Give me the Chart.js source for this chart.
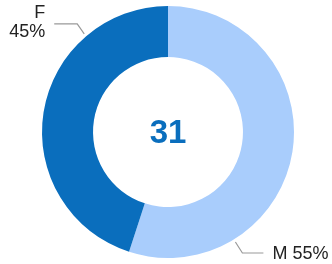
<!DOCTYPE html>
<html><head><meta charset="utf-8">
<script src="https://cdn.jsdelivr.net/npm/chart.js@4"></script>
<style>html,body{margin:0;padding:0;background:#fff}#c{display:block}</style>
</head><body>
<canvas id="c" width="332" height="264"></canvas>
<script>
const categories = ["M", "F"];
const values = [55, 45];
const colors = ["#a9cdfc", "#0a6ebd"];
const centerValue = "31";

const labelPlugin = {
  id: 'labels',
  afterDraw(chart) {
    const ctx = chart.ctx;
    const meta = chart.getDatasetMeta(0);
    const total = values.reduce((a, b) => a + b, 0);
    ctx.save();
    const a0 = meta.data[0];
    ctx.fillStyle = "#0a6ebd";
    ctx.font = "bold 33px 'Liberation Sans', Arial, sans-serif";
    ctx.textAlign = "center";
    ctx.textBaseline = "middle";
    ctx.fillText(centerValue, a0.x, a0.y + 2);
    meta.data.forEach((arc, i) => {
      const ang = arc.startAngle + (arc.endAngle - arc.startAngle) * 0.75;
      const r = arc.outerRadius + 3;
      const ax = arc.x + Math.cos(ang) * r;
      const ay = arc.y + Math.sin(ang) * r;
      const right = Math.cos(ang) >= 0;
      const down = Math.sin(ang) >= 0;
      const ex = ax + (right ? 7 : -7);
      const ey = ay + (down ? 11 : -10);
      const hx = ex + (right ? 21 : -23);
      ctx.strokeStyle = "#999999";
      ctx.lineWidth = 1.2;
      ctx.beginPath();
      ctx.moveTo(ax, ay);
      ctx.lineTo(ex, ey);
      ctx.lineTo(hx, ey);
      ctx.stroke();
      const pct = Math.round(values[i] / total * 100) + "%";
      ctx.fillStyle = "#222222";
      ctx.font = "18px 'Liberation Sans', Arial, sans-serif";
      ctx.textBaseline = "middle";
      if (right) {
        ctx.textAlign = "left";
        ctx.fillText(categories[i] + " " + pct, hx + 9, ey + 1);
      } else {
        ctx.textAlign = "right";
        ctx.fillText(categories[i], hx - 9, ey - 11);
        ctx.fillText(pct, hx - 9, ey + 8);
      }
    });
    ctx.restore();
  }
};

new Chart(document.getElementById('c'), {
  type: 'doughnut',
  data: {
    labels: categories,
    datasets: [{ data: values, backgroundColor: colors, borderWidth: 0 }]
  },
  options: {
    responsive: false,
    animation: false,
    cutout: '59.5%',
    layout: { padding: { left: 10, right: 6, top: 6, bottom: 6 } },
    plugins: { legend: { display: false }, tooltip: { enabled: false } }
  },
  plugins: [labelPlugin]
});
</script>
</body></html>
